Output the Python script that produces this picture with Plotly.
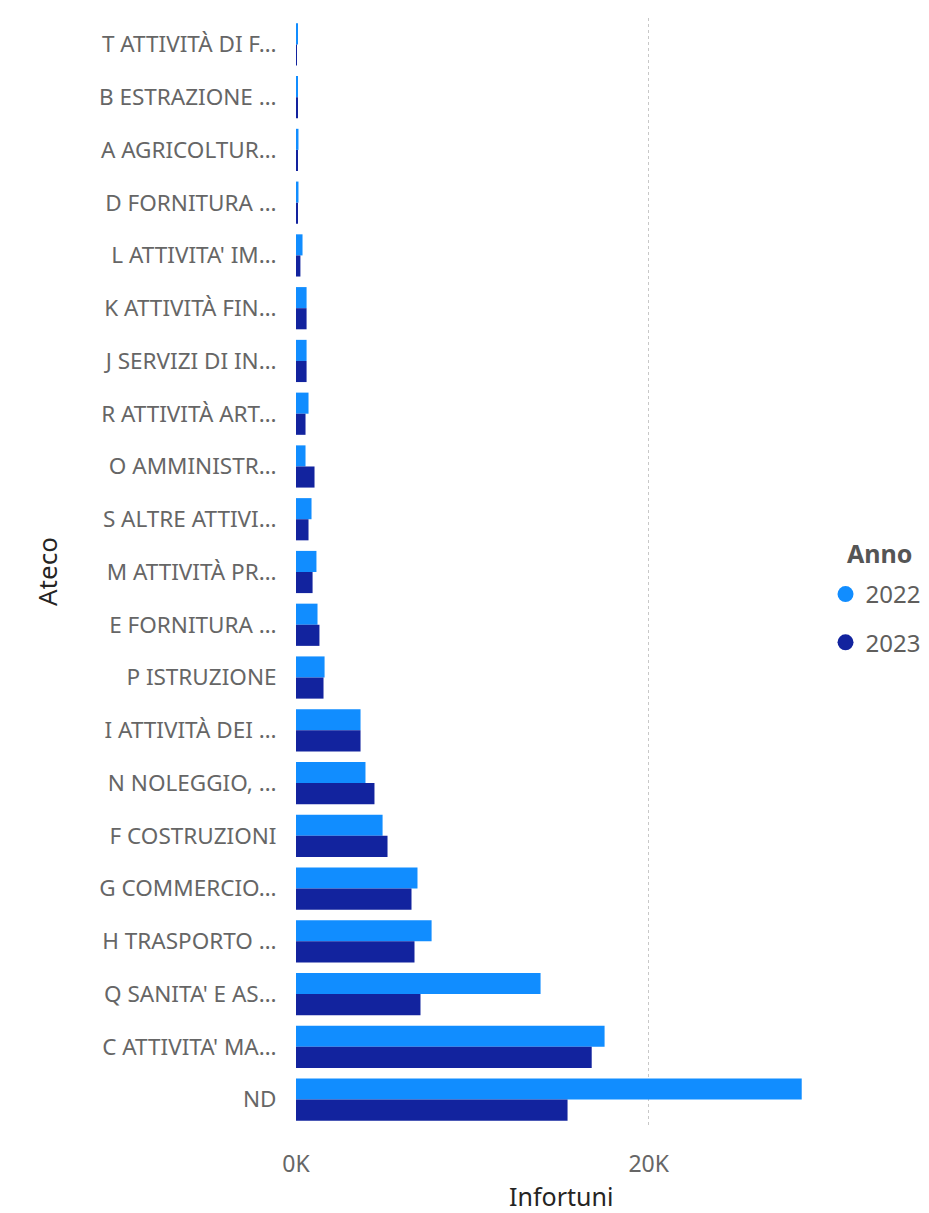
import plotly.graph_objects as go

categorie = [
    "T ATTIVITÀ DI F…", "B ESTRAZIONE …", "A AGRICOLTUR…", "D FORNITURA …",
    "L ATTIVITA' IM…", "K ATTIVITÀ FIN…", "J SERVIZI DI IN…", "R ATTIVITÀ ART…",
    "O AMMINISTR…", "S ALTRE ATTIVI…", "M ATTIVITÀ PR…", "E FORNITURA …",
    "P ISTRUZIONE", "I ATTIVITÀ DEI …", "N NOLEGGIO, …", "F COSTRUZIONI",
    "G COMMERCIO…", "H TRASPORTO …", "Q SANITA' E AS…", "C ATTIVITA' MA…", "ND",
]
infortuni_2022 = [60, 80, 140, 140, 370, 600, 600, 710, 540, 880, 1160, 1220,
                  1620, 3660, 3940, 4910, 6890, 7690, 13870, 17500, 28680]
infortuni_2023 = [50, 80, 80, 80, 250, 600, 600, 540, 1050, 710, 940, 1330,
                  1560, 3660, 4450, 5190, 6550, 6720, 7060, 16770, 15400]

anni = ["2022", "2023"]
colori = ["#118DFF", "#12239E"]
serie = [infortuni_2022, infortuni_2023]

FONT = "Segoe UI, Noto Sans, sans-serif"

fig = go.Figure()
for anno, colore, valori in zip(anni, colori, serie):
    fig.add_trace(go.Bar(
        y=categorie, x=valori, orientation="h", name=anno,
        marker=dict(color=colore, line=dict(width=0)),
        showlegend=False,
    ))
# voci di legenda con pallini
for anno, colore in zip(anni, colori):
    fig.add_trace(go.Scatter(
        x=[None], y=[None], mode="markers", name=anno, legendgroup=anno,
        marker=dict(symbol="circle", size=20, color=colore),
    ))

# la pagina ha 8px di margine sul body: figura ridotta di 8px
fig.update_layout(
    width=921, height=1205,
    barmode="group", bargap=0.2, bargroupgap=0,
    plot_bgcolor="white", paper_bgcolor="white",
    font=dict(family=FONT, color="#666666", size=22),
    margin=dict(l=288, r=104, t=10, b=87, autoexpand=False),
    legend=dict(
        font=dict(size=24, color="#605E5C"),
        x=1.001, xanchor="left", y=0.5, yanchor="top",
        tracegroupgap=14, itemwidth=30,
    ),
    xaxis=dict(
        range=[0, 30000], tickvals=[0, 20000], ticktext=["0K", "20K"],
        showgrid=True, gridcolor="#C8C8C8", griddash="dot", gridwidth=1,
        zeroline=False, showline=False,
        tickfont=dict(size=23, color="#666666"),
        ticks="outside", ticklen=17, tickcolor="rgba(0,0,0,0)",
    ),
    yaxis=dict(
        autorange="reversed", showgrid=False, zeroline=False, showline=False,
        tickfont=dict(size=22.5, color="#666666"),
        ticks="outside", ticklen=14, tickcolor="rgba(0,0,0,0)",
    ),
    annotations=[
        dict(text="Ateco", xref="paper", yref="paper", x=(39 - 288) / 529, y=0.5,
             textangle=-90, showarrow=False, xanchor="center", yanchor="middle",
             font=dict(size=26, color="#252423", family=FONT)),
        dict(text="Infortuni", xref="paper", yref="paper", x=0.5, y=-0.0628,
             showarrow=False, xanchor="center", yanchor="middle",
             font=dict(size=25, color="#252423", family=FONT)),
        dict(text="<b>Anno</b>", xref="paper", yref="paper", x=1.0378, y=0.5171,
             showarrow=False, xanchor="left", yanchor="middle",
             font=dict(size=25, color="#555555", family=FONT)),
    ],
)

fig.write_html("out.html")
